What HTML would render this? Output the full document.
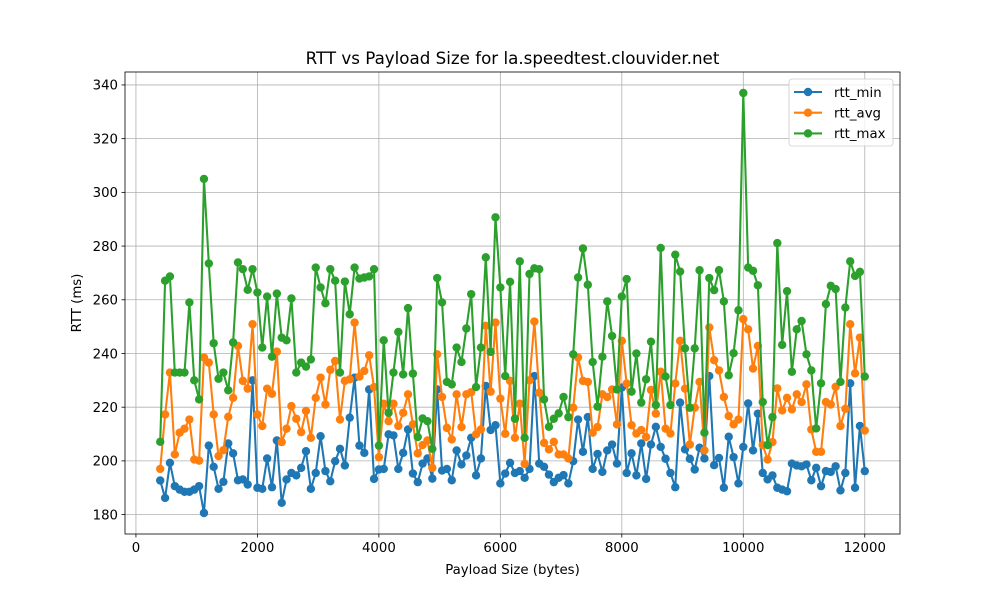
<!DOCTYPE html>
<html><head><meta charset="utf-8"><style>
body{margin:0;background:#fff;}
svg{display:block;font-family:"DejaVu Sans","Liberation Sans",sans-serif;}
</style></head><body>
<svg id="chart" width="1000" height="600" viewBox="0 0 1000 600" xmlns="http://www.w3.org/2000/svg">
<rect width="1000" height="600" fill="#fff"/>
<g id="grid"></g>
<g id="series"></g>
<rect x="125" y="72" width="775" height="462" fill="none" stroke="#000" stroke-width="0.8"/>
<g id="ticks" font-size="13.3" fill="#000"></g>
<text x="512.5" y="64" text-anchor="middle" font-size="16.7">RTT vs Payload Size for la.speedtest.clouvider.net</text>
<text x="512.5" y="574" text-anchor="middle" font-size="13.3">Payload Size (bytes)</text>
<text transform="translate(81,303) rotate(-90)" text-anchor="middle" font-size="13.3">RTT (ms)</text>
<g id="legend"></g>
</svg>
<script>
const payloadSizes = [400,480,560,640,720,800,880,960,1040,1120,1200,1280,1360,1440,1520,1600,1680,1760,1840,1920,2000,2080,2160,2240,2320,2400,2480,2560,2640,2720,2800,2880,2960,3040,3120,3200,3280,3360,3440,3520,3600,3680,3760,3840,3920,4000,4080,4160,4240,4320,4400,4480,4560,4640,4720,4800,4880,4960,5040,5120,5200,5280,5360,5440,5520,5600,5680,5760,5840,5920,6000,6080,6160,6240,6320,6400,6480,6560,6640,6720,6800,6880,6960,7040,7120,7200,7280,7360,7440,7520,7600,7680,7760,7840,7920,8000,8080,8160,8240,8320,8400,8480,8560,8640,8720,8800,8880,8960,9040,9120,9200,9280,9360,9440,9520,9600,9680,9760,9840,9920,10000,10080,10160,10240,10320,10400,10480,10560,10640,10720,10800,10880,10960,11040,11120,11200,11280,11360,11440,11520,11600,11680,11760,11840,11920,12000];
const rttMin = [192.7,186.2,199.3,190.6,189.3,188.5,188.5,189.3,190.6,180.6,205.7,197.8,189.6,192.2,206.5,202.8,192.8,193.1,191.2,230.0,190.0,189.6,200.9,190.2,207.6,184.4,193.1,195.5,194.6,197.4,203.6,
189.6,195.5,209.2,196.2,192.4,199.9,204.5,198.3,216.1,231.0,205.7,203.0,226.6,193.3,196.8,197.0,209.9,209.5,197.0,203.0,211.7,195.3,192.1,199.0,200.9,193.4,226.6,196.4,197.0,192.8,203.9,
198.7,202.0,208.6,194.6,200.9,227.9,211.5,213.3,191.6,195.3,199.3,195.5,196.2,193.7,197.0,231.6,199.0,197.8,194.9,192.1,193.7,194.7,191.6,199.9,215.4,203.4,216.3,197.0,202.6,195.9,203.9,206.1,
199.0,227.3,195.5,202.8,194.6,206.5,193.3,206.1,212.7,205.2,200.8,195.5,190.2,221.7,204.3,200.8,196.8,204.9,200.9,231.6,198.4,201.1,190.0,209.0,201.4,191.6,205.2,221.4,203.9,217.6,
195.5,193.1,194.6,190.0,189.3,188.7,199.0,198.3,198.0,198.7,192.8,197.4,190.6,196.2,195.9,198.0,189.0,195.5,228.9,190.0,213.0,196.2];
const rttAvg = [197.0,217.3,232.9,202.4,210.5,212.0,215.4,200.5,200.1,238.5,236.6,217.3,201.8,204.0,216.4,223.5,242.8,229.8,226.9,250.9,217.3,213.0,226.9,225.0,240.7,207.0,212.0,220.4,215.7,210.7,218.6,
208.6,223.5,231.0,221.0,233.9,237.2,215.4,229.8,230.4,251.5,231.4,233.5,239.3,227.5,201.4,221.3,214.8,221.3,213.0,217.9,224.8,213.6,202.8,205.9,207.6,197.4,239.7,223.8,212.3,208.0,224.8,
212.6,224.8,225.6,209.9,211.7,250.3,225.8,251.5,223.2,210.1,229.8,208.6,221.3,198.9,230.0,251.9,225.4,206.7,204.3,207.1,202.4,202.4,200.9,219.8,238.5,229.8,229.4,210.5,212.6,224.8,223.8,226.6,
213.6,244.7,228.8,213.3,210.2,211.5,208.9,226.4,217.6,233.2,212.0,210.2,228.8,244.7,226.9,206.1,219.8,229.4,203.9,249.7,237.5,233.7,223.8,216.7,213.6,215.4,252.8,249.0,234.4,242.8,
205.9,200.5,207.0,227.0,218.8,223.5,219.2,224.8,221.9,228.5,211.7,203.4,203.4,221.9,221.0,227.6,213.0,219.4,250.9,232.6,245.9,211.3];
const rttMax = [207.1,267.1,268.7,232.9,232.9,232.9,259.0,230.0,222.9,305.0,273.5,243.8,230.6,232.9,226.3,244.1,273.9,271.4,263.7,271.4,262.7,242.2,261.2,238.8,262.3,245.9,244.9,260.5,232.9,236.6,235.1,
237.8,272.0,264.6,258.7,271.4,267.1,232.9,266.8,254.6,272.0,267.9,268.3,268.7,271.4,205.7,244.9,217.9,232.9,248.0,232.2,256.9,232.5,208.9,215.8,214.8,204.5,268.1,259.0,229.4,228.5,242.2,
236.8,249.3,262.1,227.5,242.2,275.8,240.6,290.7,264.6,231.6,266.7,215.7,274.3,208.6,269.6,271.7,271.4,222.9,212.7,215.7,217.7,223.8,216.3,239.7,268.3,279.1,265.6,236.8,220.2,238.8,259.4,246.5,
226.6,261.2,267.7,225.8,240.0,221.7,230.4,244.4,220.8,279.3,231.4,220.8,276.8,270.5,241.9,219.8,241.9,271.0,210.5,268.1,263.6,271.0,259.4,231.9,240.1,256.1,337.0,272.0,270.8,265.4,
221.9,205.9,216.3,281.1,243.2,263.2,233.2,249.0,252.1,239.7,233.7,212.1,228.9,258.4,265.2,264.0,229.4,257.1,274.3,268.9,270.4,231.4];
const xTicks = [0,2000,4000,6000,8000,10000,12000];
const yTicks = [180,200,220,240,260,280,300,320,340];
const seriesNames = ["rtt_min","rtt_avg","rtt_max"];
const seriesColors = ["#1f77b4","#ff7f0e","#2ca02c"];

const NS = "http://www.w3.org/2000/svg";
const L=125,R=900,T=72,B=534;
const allX = payloadSizes;
const allY = rttMin.concat(rttAvg, rttMax);
const xMin0=Math.min(...allX), xMax0=Math.max(...allX);
const yMin0=Math.min(...allY), yMax0=Math.max(...allY);
const xPad=(xMax0-xMin0)*0.05, yPad=(yMax0-yMin0)*0.05;
const xLo=xMin0-xPad, xHi=xMax0+xPad, yLo=yMin0-yPad, yHi=yMax0+yPad;
function sx(v){return L+(v-xLo)/(xHi-xLo)*(R-L);}
function sy(v){return B-(v-yLo)/(yHi-yLo)*(B-T);}
function mk(tag,attrs,parent){const e=document.createElementNS(NS,tag);for(const k in attrs)e.setAttribute(k,attrs[k]);parent.appendChild(e);return e;}

const grid=document.getElementById('grid'), ticks=document.getElementById('ticks');
xTicks.forEach(t=>{
  const x=sx(t);
  const g=mk('line',{x1:x,x2:x,y1:T,y2:B,stroke:'#b0b0b0','stroke-width':0.8},grid);
  
  
  const tk=mk('line',{x1:x,x2:x,y1:B,y2:B+3.5,stroke:'#000','stroke-width':0.8},ticks);
  
  
  const tx=mk('text',{x:x,y:B+18,'text-anchor':'middle'},ticks);
  
  
  tx.textContent=t;
});
yTicks.forEach(t=>{
  const y=sy(t);
  const g=mk('line',{x1:L,x2:R,y1:y,y2:y,stroke:'#b0b0b0','stroke-width':0.8},grid);
  
  
  const tk=mk('line',{x1:L-3.5,x2:L,y1:y,y2:y,stroke:'#000','stroke-width':0.8},ticks);
  
  
  const tx=mk('text',{x:L-7,y:y+4.8,'text-anchor':'end'},ticks);
  
  
  tx.textContent=t;
});

const seriesG=document.getElementById('series');
[rttMin,rttAvg,rttMax].forEach((vals,si)=>{
  const g=mk('g',{},seriesG);
  
  
  const pts=vals.map((v,i)=>sx(payloadSizes[i]).toFixed(2)+','+sy(v).toFixed(2)).join(' ');
  const pl=mk('polyline',{points:pts,fill:'none',stroke:seriesColors[si],'stroke-width':2.08,'stroke-linejoin':'round'},g);
  
  
  vals.forEach((v,i)=>{
    const c=mk('circle',{cx:sx(payloadSizes[i]),cy:sy(v),r:4.2,fill:seriesColors[si]},g);
    
    
  });
});

const lg=document.getElementById('legend');
const box=mk('rect',{x:789,y:79,width:104,height:67,rx:3,fill:'#fff','fill-opacity':0.8,stroke:'#cccccc','stroke-width':0.8},lg);


seriesNames.forEach((n,i)=>{
  const y=92+i*20.7;
  const e=mk('g',{},lg);
  
  
  mk('line',{x1:794,x2:822,y1:y,y2:y,stroke:seriesColors[i],'stroke-width':2.08},e);
  mk('circle',{cx:808,cy:y,r:4.2,fill:seriesColors[i]},e);
  const t=mk('text',{x:834,y:y+4.8,'font-size':13.3},e);
  t.textContent=n;
});
</script>
</body></html>
